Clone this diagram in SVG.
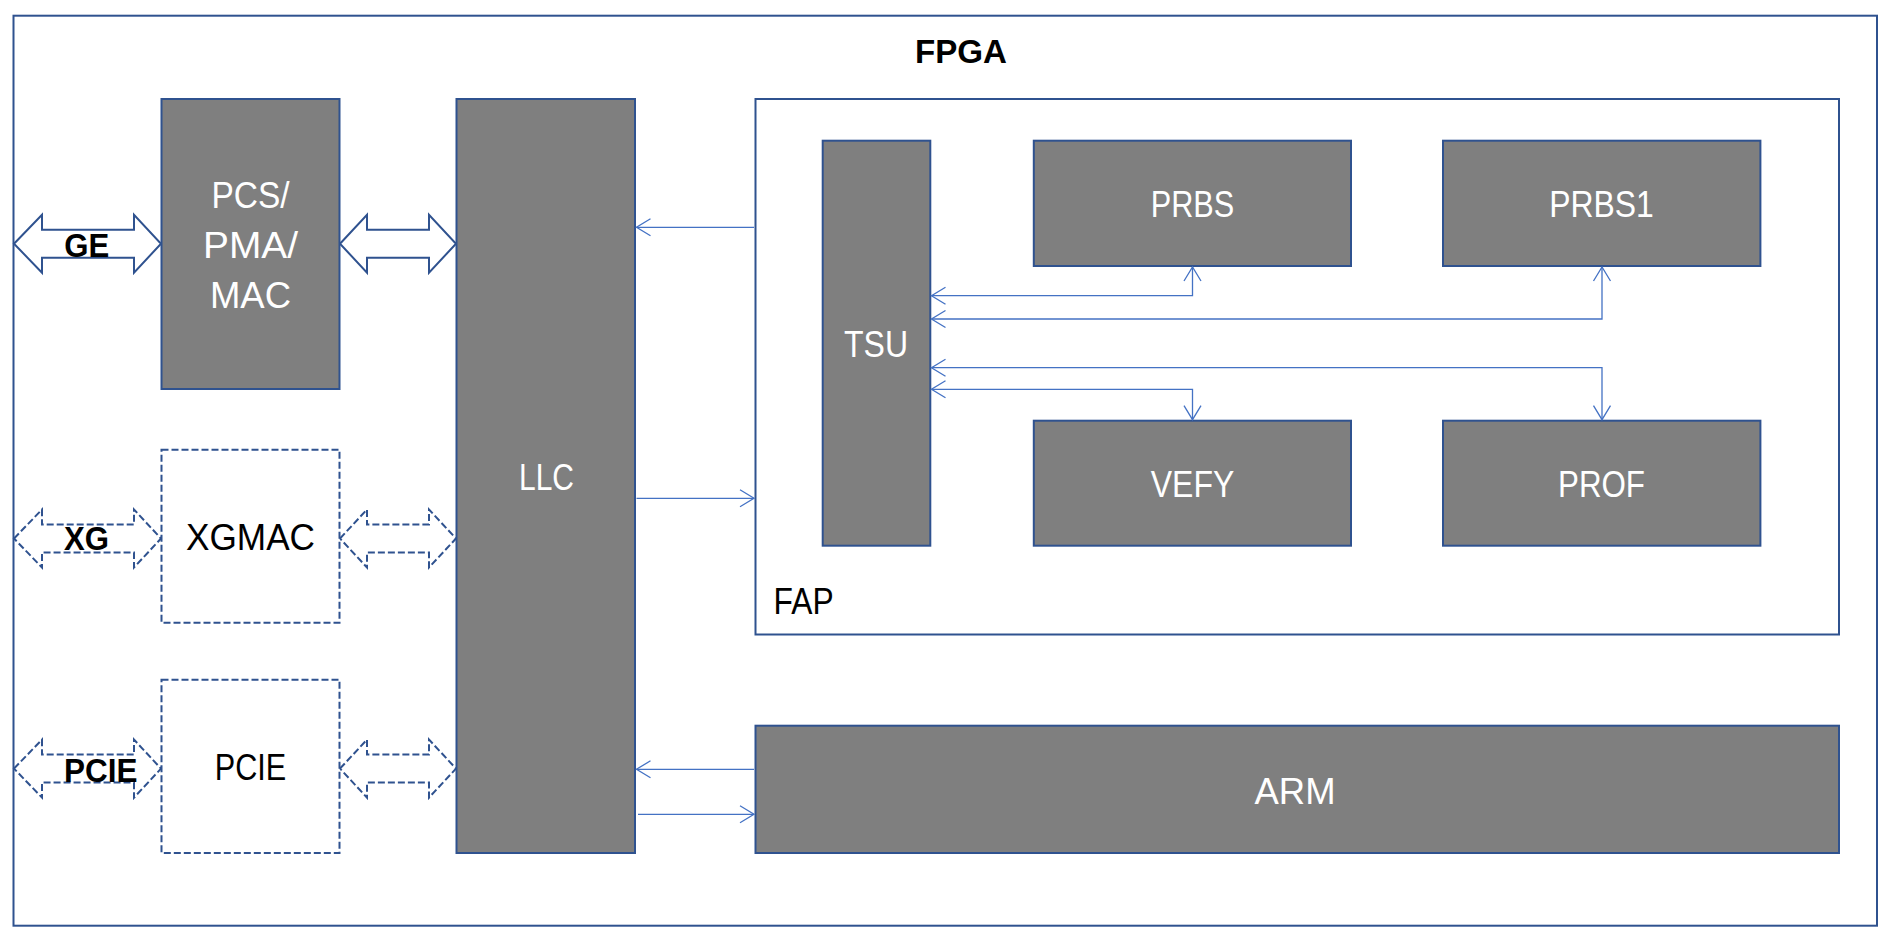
<svg xmlns="http://www.w3.org/2000/svg" width="1896" height="942" viewBox="0 0 1896 942">
<style>
.frame{fill:#fff;stroke:#2F528F;stroke-width:2}
.blk{fill:#7F7F7F;stroke:#2F528F;stroke-width:2}
.dash{fill:#fff;stroke:#2F528F;stroke-width:2;stroke-dasharray:7 3}
.ba{fill:#fff;stroke:#2F528F;stroke-width:2}
.bad{fill:#fff;stroke:#2F528F;stroke-width:2;stroke-dasharray:7 3}
.con{fill:none;stroke:#4472C4;stroke-width:1.3}
.w{font-family:"Liberation Sans",Arial,sans-serif;font-size:36px;fill:#fff;text-anchor:middle}
.k{font-family:"Liberation Sans",Arial,sans-serif;font-size:36px;fill:#000;text-anchor:middle}
.kb{font-family:"Liberation Sans",Arial,sans-serif;font-size:34px;font-weight:bold;fill:#000;text-anchor:middle}
</style>
<defs>
<marker id="ah" viewBox="-16 -10 18 20" refX="0" refY="0" markerWidth="18" markerHeight="20" markerUnits="userSpaceOnUse" orient="auto-start-reverse">
<path d="M-14,-8.5 L0,0 L-14,8.5" fill="none" stroke="#4472C4" stroke-width="1.3"/>
</marker>
<path id="dblL" d="M0,0 L28,-29 L28,-14 L120,-14 L120,-29 L147,0 L120,29 L120,14 L28,14 L28,29 Z"/>
<path id="dblR" d="M0,0 L27,-29 L27,-14 L89,-14 L89,-29 L116,0 L89,29 L89,14 L27,14 L27,29 Z"/>
</defs>

<g id="fpga">
<rect class="frame" x="13.5" y="15.7" width="1863.5" height="910"/>
<text class="kb" x="961" y="63.3" textLength="92" lengthAdjust="spacingAndGlyphs">FPGA</text>
</g>

<g id="fap">
<rect class="frame" x="755.5" y="99" width="1083.5" height="535.5"/>
<text x="773.6" y="614.3" font-family="Liberation Sans, Arial, sans-serif" font-size="36" fill="#000" textLength="60" lengthAdjust="spacingAndGlyphs">FAP</text>
</g>

<g id="ge-arrow">
<use href="#dblL" class="ba" transform="translate(14,243.7)"/>
<text class="kb" x="86.8" y="257.3" textLength="45" lengthAdjust="spacingAndGlyphs">GE</text>
</g>
<g id="pcs-llc-arrow"><use href="#dblR" class="ba" transform="translate(340,243.7)"/></g>

<g id="xg-arrow">
<use href="#dblL" class="bad" transform="translate(14,538.5)"/>
<text class="kb" x="86.5" y="550" textLength="45" lengthAdjust="spacingAndGlyphs">XG</text>
</g>
<g id="xgmac-llc-arrow"><use href="#dblR" class="bad" transform="translate(340,538.5)"/></g>

<g id="pcie-arrow">
<use href="#dblL" class="bad" transform="translate(14,768.6)"/>
<text class="kb" x="100.7" y="781.7" textLength="73.5" lengthAdjust="spacingAndGlyphs">PCIE</text>
</g>
<g id="pcie-llc-arrow"><use href="#dblR" class="bad" transform="translate(340,768.6)"/></g>

<g id="pcs">
<rect class="blk" x="161.5" y="99" width="178" height="290"/>
<text class="w" x="250.5" y="208" textLength="78" lengthAdjust="spacingAndGlyphs">PCS/</text>
<text class="w" x="250.5" y="258" textLength="95" lengthAdjust="spacingAndGlyphs">PMA/</text>
<text class="w" x="250.5" y="308" textLength="81" lengthAdjust="spacingAndGlyphs">MAC</text>
</g>

<g id="xgmac">
<rect class="dash" x="161.5" y="449.7" width="178" height="173"/>
<text class="k" x="250.5" y="550" textLength="129" lengthAdjust="spacingAndGlyphs">XGMAC</text>
</g>

<g id="pcie">
<rect class="dash" x="161.5" y="679.7" width="178" height="173.3"/>
<text class="k" x="250.5" y="780" textLength="71.5" lengthAdjust="spacingAndGlyphs">PCIE</text>
</g>

<g id="llc">
<rect class="blk" x="456.5" y="99" width="178.5" height="754"/>
<text class="w" x="546.5" y="490" textLength="55" lengthAdjust="spacingAndGlyphs">LLC</text>
</g>

<g id="tsu">
<rect class="blk" x="822.7" y="140.7" width="107.6" height="405"/>
<text class="w" x="876" y="356.7" textLength="64" lengthAdjust="spacingAndGlyphs">TSU</text>
</g>

<g id="prbs">
<rect class="blk" x="1033.8" y="140.7" width="317.2" height="125.3"/>
<text class="w" x="1192.5" y="216.7" textLength="83.5" lengthAdjust="spacingAndGlyphs">PRBS</text>
</g>

<g id="prbs1">
<rect class="blk" x="1443" y="140.7" width="317.4" height="125.3"/>
<text class="w" x="1601.5" y="216.7" textLength="104.6" lengthAdjust="spacingAndGlyphs">PRBS1</text>
</g>

<g id="vefy">
<rect class="blk" x="1033.8" y="420.7" width="317.2" height="125"/>
<text class="w" x="1192.5" y="496.7" textLength="83.5" lengthAdjust="spacingAndGlyphs">VEFY</text>
</g>

<g id="prof">
<rect class="blk" x="1443" y="420.7" width="317.4" height="125"/>
<text class="w" x="1601.5" y="496.7" textLength="87" lengthAdjust="spacingAndGlyphs">PROF</text>
</g>

<g id="arm">
<rect class="blk" x="755.5" y="725.7" width="1083.5" height="127.3"/>
<text class="w" x="1295" y="804.3" textLength="81" lengthAdjust="spacingAndGlyphs">ARM</text>
</g>

<g id="connectors">
<path class="con" d="M754,227.3 H636.5" marker-end="url(#ah)"/>
<path class="con" d="M636.5,498.3 H754" marker-end="url(#ah)"/>
<path class="con" d="M754,769.3 H636.5" marker-end="url(#ah)"/>
<path class="con" d="M638,814.3 H754" marker-end="url(#ah)"/>
<path class="con" d="M931.5,295.7 H1192.5 V267" marker-start="url(#ah)" marker-end="url(#ah)"/>
<path class="con" d="M931.5,319 H1602 V267" marker-start="url(#ah)" marker-end="url(#ah)"/>
<path class="con" d="M931.5,367.7 H1602 V419.7" marker-start="url(#ah)" marker-end="url(#ah)"/>
<path class="con" d="M931.5,389.3 H1192.5 V419.7" marker-start="url(#ah)" marker-end="url(#ah)"/>
</g>
</svg>
